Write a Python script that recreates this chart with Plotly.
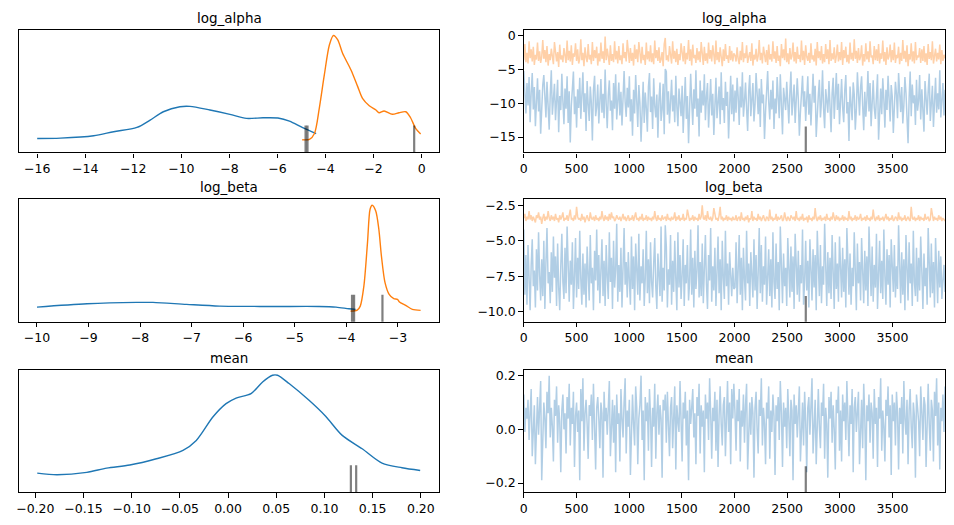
import numpy as np
import plotly.graph_objects as go

# ---------------- data ----------------
variables = ["log_alpha", "log_beta", "mean"]

# KDE curves (relative density heights)
kde_la_c0_x = [-16, -15.03, -13.65, -12.82, -11.85, -11.3, -10.75, -10.06, -9.64, -8.81, -7.98, -7.29, -6.6, -5.98, -5.5, -4.95, -4.39]
kde_la_c0_y = [0.114, 0.117, 0.136, 0.169, 0.204, 0.264, 0.332, 0.373, 0.376, 0.346, 0.311, 0.278, 0.283, 0.281, 0.256, 0.202, 0.153]
kde_la_c1_x = [-4.97, -4.67, -4.46, -4.26, -4.05, -3.84, -3.67, -3.49, -3.29, -2.94, -2.66, -2.46, -2.18, -1.9, -1.77, -1.56, -1.22, -0.94, -0.66, -0.46, -0.25, -0.04]
kde_la_c1_y = [0.104, 0.106, 0.155, 0.36, 0.632, 0.877, 0.954, 0.918, 0.809, 0.673, 0.537, 0.441, 0.381, 0.346, 0.324, 0.338, 0.311, 0.324, 0.332, 0.283, 0.196, 0.150]

kde_lb_c0_x = [-10, -9.03, -8.07, -7.75, -7.1, -6.46, -5.49, -4.53, -4.2, -3.95, -3.82]
kde_lb_c0_y = [0.120, 0.147, 0.158, 0.158, 0.142, 0.128, 0.125, 0.125, 0.120, 0.106, 0.101]
kde_lb_c1_x = [-3.92, -3.79, -3.73, -3.66, -3.59, -3.54, -3.5, -3.43, -3.37, -3.32, -3.25, -3.17, -3.08, -3.01, -2.97, -2.85, -2.72, -2.56]
kde_lb_c1_y = [0.087, 0.095, 0.128, 0.292, 0.646, 0.918, 0.951, 0.905, 0.755, 0.537, 0.319, 0.223, 0.188, 0.183, 0.161, 0.134, 0.101, 0.093]

kde_mu_x = [-0.198, -0.1776, -0.1466, -0.126, -0.1019, -0.0744, -0.0468, -0.033, -0.0158, -0.0021, 0.0083, 0.0238, 0.0358, 0.0461, 0.0513, 0.0633, 0.084, 0.1012, 0.1184, 0.1391, 0.1597, 0.1804, 0.1993]
kde_mu_y = [0.155, 0.142, 0.161, 0.196, 0.221, 0.272, 0.341, 0.422, 0.613, 0.722, 0.768, 0.804, 0.899, 0.954, 0.954, 0.886, 0.749, 0.619, 0.463, 0.354, 0.237, 0.199, 0.177]

# divergences
div_draws = [2677]
div_la_vals = [-4.83, -4.75, -0.31]
div_lb_vals = [-3.89, -3.85, -3.30]
div_mu_vals = [0.1274, 0.1329]

# trace samples (thinned, every ~10 draws)
trace_la_c0 = [
    -5.2, -9.8, -11.5, -7.0, -10.3, -6.1, -12.8, -8.4, -5.5, -10.9,
    -7.6, -13.4, -9.1, -6.3, -11.2, -8.0, -14.5, -10.6, -7.3, -5.8,
    -9.5, -12.1, -6.8, -10.0, -13.9, -8.7, -5.1, -11.7, -9.3, -7.1,
    -12.5, -10.2, -6.5, -14.3, -8.9, -11.0, -5.6, -9.7, -13.1, -7.8,
    -10.8, -6.0, -12.9, -8.2, -15.8, -10.4, -7.4, -5.3, -11.6, -9.0,
    -13.6, -7.9, -10.7, -6.2, -12.3, -9.4, -5.4, -11.3, -8.5, -14.1,
    -6.7, -10.1, -12.6, -7.5, -9.9, -15.5, -8.1, -5.9, -11.9, -10.5,
    -7.2, -13.0, -9.2, -6.4, -11.4, -8.6, -12.2, -5.0, -10.0, -13.7,
    -8.8, -6.6, -11.1, -9.6, -14.0, -7.0, -10.8, -5.7, -12.4, -9.1,
    -6.9, -11.8, -8.3, -13.3, -10.3, -5.2, -9.8, -12.0, -7.7, -10.6,
    -6.0, -12.7, -9.4, -14.8, -8.0, -11.5, -5.8, -10.2, -13.5, -7.3,
    -9.9, -15.7, -11.0, -6.8, -12.9, -8.4, -10.7, -14.2, -7.6, -5.5,
    -11.3, -9.0, -13.8, -6.3, -10.4, -12.1, -8.7, -15.1, -9.6, -6.9,
    -12.6, -10.9, -7.1, -14.6, -4.9, -5.3, -11.7, -8.2, -13.0, -10.1,
    -6.5, -11.2, -8.8, -12.8, -5.9, -10.5, -13.4, -7.8, -9.5, -11.9,
    -7.4, -14.4, -10.0, -6.1, -12.3, -8.9, -15.9, -11.1, -5.6, -9.7,
    -13.2, -7.9, -10.8, -5.1, -12.0, -9.3, -14.9, -6.6, -11.4, -8.1,
    -10.3, -5.7, -12.5, -9.0, -7.0, -13.6, -10.6, -6.4, -11.8, -8.6,
    -14.7, -9.8, -6.2, -12.2, -10.0, -7.5, -13.1, -5.4, -11.0, -9.2,
    -12.9, -6.8, -10.4, -8.3, -15.2, -9.6, -5.9, -11.6, -7.2, -12.7,
    -8.1, -11.4, -6.2, -9.0, -13.2, -7.5, -10.6, -5.4, -12.0, -9.7,
    -6.9, -10.8, -14.1, -8.3, -5.8, -11.9, -9.5, -7.0, -12.7, -10.2,
    -5.5, -9.1, -11.6, -7.8, -13.5, -6.4, -10.0, -8.7, -15.3, -11.2,
    -7.3, -5.2, -9.8, -12.4, -8.0, -10.9, -6.6, -13.8, -9.3, -11.5,
    -6.1, -8.9, -12.2, -5.7, -10.4, -14.6, -7.7, -9.6, -11.0, -6.8,
    -10.7, -13.0, -8.4, -5.3, -11.8, -9.2, -7.2, -12.9, -10.1, -6.3,
    -9.4, -14.8, -11.3, -7.6, -5.9, -10.5, -8.2, -12.6, -9.0, -6.0,
    -11.7, -8.6, -13.3, -10.3, -5.6, -9.9, -7.4, -15.0, -11.1, -8.8,
    -6.5, -12.1, -9.7, -5.1, -10.8, -13.7, -7.9, -9.3, -11.4, -6.7,
    -10.0, -14.3, -8.5, -6.2, -12.3, -9.6, -5.5, -11.0, -7.1, -13.1,
    -9.2, -6.4, -10.6, -12.8, -8.1, -5.8, -11.5, -9.8, -15.6, -7.5,
    -10.2, -12.5, -6.9, -8.7, -13.9, -10.9, -5.4, -9.1, -11.8, -7.7,
    -6.0, -10.4, -14.0, -8.3, -12.0, -9.5, -5.2, -11.2, -7.0, -13.4,
    -9.9, -6.6, -10.7, -12.3, -8.9, -5.7, -15.4, -10.1, -7.8, -11.6,
    -6.3, -9.4, -13.6, -8.0, -11.0, -5.9, -10.5, -12.7, -7.3, -9.0,
    -14.4, -10.8, -6.8, -8.6, -12.2, -5.5, -9.7, -11.3, -7.6, -13.0,
    -10.3, -6.1, -8.4, -12.9, -15.9, -9.2, -5.3, -11.9, -7.2, -10.0,
    -8.8, -13.2, -6.5, -11.1, -9.6, -5.8, -12.4, -7.9, -10.6, -14.2,
    -6.7, -9.3, -11.7, -8.2, -5.6, -12.6, -10.4, -7.4, -13.5, -9.8,
    -6.2, -11.4, -8.5, -10.9, -5.1, -12.1, -9.1, -7.0, -11.8, -8.0,
]
trace_la_c1 = [
    -3.6, -1.2, -3.9, -2.5, -4.1, -0.8, -3.3, -2.0, -3.8, -1.6,
    -4.3, -2.8, -3.5, -1.0, -3.7, -2.3, -4.0, -3.1, -0.6, -3.4,
    -2.1, -3.9, -1.5, -4.4, -2.7, -3.6, -1.9, -3.2, -4.2, -0.9,
    -3.0, -3.8, -2.4, -4.6, -1.3, -3.5, -2.9, -3.9, -1.8, -3.3,
    -4.0, -0.7, -3.6, -2.2, -3.8, -1.4, -4.3, -2.6, -3.1, -1.1,
    -3.7, -2.0, -4.1, -3.4, -0.5, -3.6, -2.5, -4.5, -1.7, -3.2,
    -3.9, -1.2, -3.5, -2.8, -4.2, -0.9, -3.7, -2.1, -3.3, -1.6,
    -4.4, -2.6, -3.8, -1.0, -3.4, -2.3, -4.0, -0.1, -3.6, -1.9,
    -3.1, -4.3, -1.4, -3.7, -2.7, -3.9, -0.8, -3.5, -2.2, -4.1,
    -1.5, -3.6, -2.9, -4.2, -1.1, -3.3, -2.4, -3.8, -0.6, -3.0,
    -4.0, -1.8, -3.7, -2.5, -4.4, -1.3, -3.4, -2.0, -3.9, -0.9,
    -3.2, -4.1, -1.6, -3.6, -2.8, -4.3, -1.0, -3.5, -2.3, -3.8,
    -1.4, -3.9, -2.6, -4.2, -0.7, -3.3, -2.1, -3.7, -1.7, -4.0,
    -3.5, -2.4, -4.5, -1.2, -0.3, -3.6, -2.9, -3.8, -1.5, -3.1,
    -4.1, -0.8, -3.4, -2.2, -3.9, -1.9, -4.3, -2.7, -3.6, -1.1,
    -3.0, -3.8, -1.5, -4.2, -2.5, -3.5, -0.6, -3.7, -2.0, -4.4,
    -1.3, -3.3, -2.8, -4.0, -1.8, -3.6, -2.3, -3.9, -0.9, -3.2,
    -4.3, -1.6, -3.7, -2.6, -4.1, -1.0, -3.4, -2.1, -3.8, -1.4,
    -3.5, -4.2, -0.7, -3.6, -2.4, -3.9, -1.7, -3.1, -4.5, -2.0,
    -3.7, -1.2, -3.4, -2.9, -4.0, -1.5, -3.6, -2.2, -3.8, -2.6,
    -2.9, -3.8, -1.7, -3.4, -4.2, -2.2, -3.6, -0.9, -3.9, -2.6,
    -3.3, -1.4, -4.0, -3.1, -2.4, -3.7, -1.1, -4.4, -2.8, -3.5,
    -1.9, -3.8, -3.0, -0.6, -3.6, -2.5, -4.1, -1.6, -3.2, -3.9,
    -2.1, -4.3, -1.3, -3.5, -2.7, -3.8, -0.8, -3.4, -2.3, -4.0,
    -1.5, -3.7, -2.9, -4.5, -1.2, -3.3, -2.0, -3.6, -0.4, -3.9,
    -2.6, -4.2, -1.8, -3.5, -3.0, -1.0, -3.8, -2.4, -4.1, -1.6,
    -3.4, -2.8, -3.9, -0.7, -3.6, -2.2, -4.3, -1.4, -3.1, -3.7,
    -2.5, -4.0, -1.1, -3.5, -2.9, -3.8, -1.9, -4.4, -0.9, -3.3,
    -2.3, -3.6, -1.5, -4.1, -2.7, -3.9, -1.2, -3.4, -2.0, -4.2,
    -0.6, -3.7, -2.6, -3.5, -1.7, -4.0, -3.0, -1.3, -3.8, -2.4,
    -3.6, -0.9, -4.3, -2.1, -3.3, -1.6, -3.9, -2.8, -4.1, -1.0,
    -3.5, -2.5, -3.7, -0.5, -3.4, -2.2, -4.0, -1.8, -3.6, -3.1,
    -1.4, -4.4, -2.7, -3.8, -1.1, -3.5, -2.3, -3.9, -0.8, -3.2,
    -2.9, -4.2, -1.5, -3.6, -2.0, -3.7, -1.2, -4.1, -2.6, -3.4,
    -0.7, -3.8, -2.4, -4.3, -1.7, -3.5, -3.0, -1.3, -3.9, -2.1,
    -3.6, -1.0, -4.0, -2.8, -3.3, -1.6, -4.2, -2.5, -3.7, -0.6,
    -3.4, -2.2, -3.9, -1.4, -4.5, -2.7, -3.5, -1.1, -3.8, -2.3,
    -4.1, -0.9, -3.6, -2.9, -3.2, -1.8, -4.0, -2.0, -3.7, -1.5,
    -3.9, -2.6, -4.3, -1.2, -3.4, -2.4, -3.6, -0.8, -4.1, -3.0,
    -1.9, -3.8, -2.5, -3.5, -1.3, -4.2, -2.1, -3.7, -2.8, -3.3,
]
trace_lb_c0 = [
    -4.2, -8.8, -6.0, -9.5, -5.3, -7.8, -9.9, -6.7, -4.9, -8.2,
    -7.1, -9.7, -5.6, -8.5, -4.4, -7.4, -9.2, -6.3, -8.9, -5.0,
    -9.8, -6.5, -4.1, -8.0, -7.2, -9.4, -5.8, -8.6, -4.7, -7.6,
    -6.1, -9.6, -5.2, -8.3, -9.9, -6.8, -4.5, -7.9, -9.1, -5.5,
    -8.7, -4.0, -7.0, -9.3, -6.4, -8.1, -5.1, -9.8, -7.5, -4.8,
    -9.0, -6.2, -8.4, -4.3, -7.7, -9.5, -5.9, -8.8, -6.6, -9.7,
    -5.4, -7.3, -9.2, -4.6, -8.0, -6.9, -9.9, -5.7, -7.8, -4.2,
    -8.5, -6.0, -9.4, -7.1, -4.9, -8.9, -6.4, -9.6, -5.3, -7.5,
    -9.1, -4.4, -7.9, -6.2, -9.8, -5.0, -8.3, -7.0, -3.8, -9.3,
    -6.7, -8.6, -5.5, -9.7, -7.4, -4.1, -8.1, -6.5, -9.0, -5.8,
    -7.8, -9.5, -4.7, -8.4, -6.1, -9.9, -5.2, -7.2, -8.8, -4.5,
    -9.2, -6.8, -8.0, -5.6, -9.6, -7.6, -4.3, -8.7, -6.3, -9.4,
    -5.1, -7.9, -9.0, -6.6, -4.8, -8.2, -9.8, -5.9, -7.3, -8.9,
    -4.0, -9.3, -6.9, -8.5, -3.9, -5.4, -9.7, -7.0, -8.1, -4.6,
    -9.5, -6.4, -8.6, -5.0, -7.7, -9.9, -4.4, -8.3, -6.0, -9.1,
    -7.4, -4.9, -9.6, -6.7, -8.0, -5.3, -9.2, -7.9, -4.2, -8.8,
    -6.2, -9.7, -5.7, -8.4, -7.1, -3.9, -9.0, -6.5, -8.9, -5.2,
    -9.4, -7.5, -4.6, -8.1, -9.8, -6.0, -7.8, -4.1, -9.3, -6.8,
    -8.5, -5.5, -9.6, -7.2, -4.7, -8.7, -6.3, -9.9, -5.0, -7.6,
    -9.1, -4.3, -8.2, -6.6, -9.5, -5.8, -7.3, -8.9, -6.9, -8.4,
    -8.3, -5.1, -9.4, -7.0, -4.6, -8.8, -6.2, -9.9, -5.5, -7.7,
    -9.2, -4.3, -8.0, -6.6, -9.6, -5.8, -7.4, -9.0, -4.9, -8.5,
    -6.0, -9.8, -7.2, -4.1, -8.7, -5.3, -9.3, -6.8, -8.1, -4.7,
    -9.5, -7.5, -5.6, -8.9, -6.3, -9.7, -4.4, -7.9, -9.1, -5.2,
    -8.4, -6.5, -9.9, -4.0, -7.1, -9.4, -5.9, -8.2, -6.9, -9.6,
    -4.8, -7.6, -9.0, -5.4, -8.6, -6.1, -9.8, -4.5, -7.3, -8.8,
    -5.7, -9.3, -6.7, -8.0, -4.2, -9.5, -7.8, -5.0, -8.5, -6.4,
    -9.7, -4.9, -7.0, -9.2, -5.6, -8.3, -6.0, -9.9, -4.3, -7.5,
    -8.9, -5.3, -9.4, -6.8, -8.1, -3.8, -7.7, -9.6, -5.8, -8.7,
    -6.2, -9.1, -4.6, -7.4, -9.8, -5.1, -8.4, -6.6, -9.3, -4.7,
    -7.9, -9.0, -5.5, -8.6, -6.3, -9.7, -4.1, -7.2, -8.8, -5.9,
    -9.5, -6.9, -8.2, -4.4, -7.6, -9.9, -5.2, -8.0, -6.5, -9.2,
    -4.8, -7.1, -9.4, -5.7, -8.5, -6.1, -9.6, -4.0, -7.8, -8.9,
    -5.4, -9.3, -6.7, -8.3, -4.5, -9.8, -7.3, -5.0, -8.7, -6.4,
    -9.1, -4.2, -7.5, -9.5, -5.6, -8.1, -6.0, -9.7, -4.9, -7.0,
    -8.6, -5.3, -9.0, -6.8, -8.4, -3.9, -7.7, -9.4, -5.8, -8.8,
    -6.3, -9.9, -4.6, -7.4, -9.2, -5.1, -8.0, -6.6, -9.6, -4.3,
    -7.9, -8.9, -5.5, -9.3, -6.2, -8.5, -4.7, -7.2, -9.8, -5.9,
    -8.2, -6.9, -9.5, -4.1, -7.6, -9.0, -5.2, -8.7, -6.5, -9.7,
    -4.8, -7.1, -9.4, -5.7, -8.3, -6.1, -9.1, -7.8, -6.7, -8.6,
]
trace_lb_c1 = [
    -3.4, -3.1, -3.6, -3.3, -3.5, -2.9, -3.5, -3.2, -3.6, -3.3,
    -3.5, -3.7, -3.2, -3.4, -3.0, -3.5, -3.3, -3.8, -3.4, -3.1,
    -3.6, -3.3, -3.5, -2.9, -3.4, -3.6, -3.2, -3.5, -3.3, -3.6,
    -3.1, -3.5, -3.4, -3.7, -3.2, -3.5, -3.3, -3.0, -3.6, -3.4,
    -3.5, -3.2, -3.6, -3.3, -2.8, -3.5, -3.4, -3.6, -3.2, -3.5,
    -2.6, -3.3, -3.5, -3.4, -3.6, -3.1, -3.5, -3.3, -3.7, -3.4,
    -3.2, -3.5, -3.6, -3.0, -3.4, -3.5, -3.3, -3.6, -3.2, -3.5,
    -3.4, -3.6, -3.3, -3.5, -2.9, -3.4, -3.6, -3.2, -3.5, -3.3,
    -3.6, -3.1, -3.5, -3.0, -3.4, -3.3, -3.6, -3.5, -3.2, -3.4,
    -3.5, -3.3, -3.6, -3.4, -3.1, -3.5, -3.3, -3.6, -3.4, -3.2,
    -3.6, -3.4, -3.5, -3.2, -3.6, -3.3, -3.0, -3.5, -3.4, -3.6,
    -3.3, -3.5, -3.1, -3.6, -3.4, -3.5, -3.2, -3.6, -3.3, -3.5,
    -3.4, -3.6, -3.3, -3.5, -2.9, -3.4, -3.6, -3.2, -3.5, -3.4,
    -3.6, -3.2, -3.5, -3.4, -3.3, -3.6, -3.1, -3.5, -3.4, -3.6,
    -3.3, -3.5, -3.4, -3.0, -3.6, -3.3, -3.5, -3.2, -3.6, -3.4,
    -3.5, -3.1, -3.6, -3.4, -3.5, -2.8, -3.3, -3.6, -3.4, -3.5,
    -3.2, -3.6, -3.3, -3.5, -3.4, -3.6, -3.1, -3.5, -3.3, -2.5,
    -3.4, -3.5, -3.2, -3.6, -2.9, -3.4, -3.5, -3.3, -3.6, -3.4,
    -2.7, -3.3, -3.5, -3.4, -3.6, -3.2, -2.6, -3.5, -3.3, -3.6,
    -3.4, -3.5, -3.2, -3.6, -3.3, -3.5, -3.4, -3.6, -3.3, -3.5,
    -3.5, -3.2, -3.6, -3.4, -3.3, -3.6, -3.0, -3.5, -3.4, -3.6,
    -3.3, -3.5, -3.2, -3.7, -3.4, -3.5, -2.9, -3.6, -3.3, -3.5,
    -3.4, -3.6, -3.1, -3.5, -3.3, -3.6, -3.4, -3.2, -3.5, -3.6,
    -3.3, -3.4, -3.6, -2.8, -3.5, -3.3, -3.6, -3.4, -3.5, -3.1,
    -3.6, -3.3, -3.5, -3.4, -3.2, -3.6, -3.5, -3.0, -3.4, -3.6,
    -3.3, -3.5, -3.6, -3.2, -3.4, -3.5, -3.3, -3.6, -2.9, -3.5,
    -3.4, -3.6, -3.3, -3.5, -3.1, -3.6, -3.4, -3.5, -3.3, -3.7,
    -3.2, -3.5, -3.4, -3.6, -3.3, -3.5, -2.7, -3.4, -3.6, -3.3,
    -3.5, -3.2, -3.6, -3.4, -3.5, -3.3, -3.6, -3.1, -3.5, -3.4,
    -3.6, -3.3, -3.5, -3.0, -3.4, -3.6, -3.2, -3.5, -3.3, -3.6,
    -3.4, -3.5, -3.2, -3.6, -3.3, -3.5, -3.4, -3.6, -2.9, -3.5,
    -3.3, -3.6, -3.4, -3.5, -3.2, -3.6, -3.3, -3.5, -3.4, -3.1,
    -3.6, -3.4, -3.5, -3.3, -3.6, -3.2, -3.5, -3.4, -3.6, -3.3,
    -3.5, -2.8, -3.4, -3.6, -3.3, -3.5, -3.2, -3.6, -3.4, -3.5,
    -3.3, -3.6, -3.4, -3.1, -3.5, -3.3, -3.6, -3.4, -3.5, -3.2,
    -3.6, -3.5, -3.3, -3.4, -3.6, -3.0, -3.5, -3.3, -3.6, -3.4,
    -3.5, -3.2, -3.6, -3.4, -3.3, -3.5, -3.6, -2.6, -3.4, -3.5,
    -3.3, -3.6, -3.4, -3.5, -3.2, -3.6, -3.3, -3.5, -3.4, -3.6,
    -3.1, -3.5, -3.4, -3.3, -3.6, -3.5, -2.7, -3.4, -3.6, -3.3,
    -3.5, -3.4, -3.6, -3.2, -3.5, -3.3, -3.6, -3.4, -3.5, -3.6,
]
trace_mu_c0 = [
    0.13, -0.01, 0.08, 0.04, 0.11, -0.04, 0.06, 0.15, -0.10, 0.03,
    0.09, -0.13, 0.05, 0.12, -0.02, 0.07, 0.18, -0.19, 0.02, 0.10,
    0.04, -0.07, 0.14, 0.06, 0.20, -0.03, 0.08, 0.01, -0.12, 0.11,
    0.05, 0.16, -0.05, 0.09, 0.03, -0.16, 0.07, 0.13, 0.00, 0.06,
    -0.09, 0.12, 0.04, 0.17, -0.06, 0.08, 0.02, 0.14, -0.14, 0.05,
    0.10, -0.01, 0.07, -0.19, 0.15, 0.03, 0.19, -0.08, 0.06, 0.11,
    0.02, -0.11, 0.09, 0.05, 0.13, -0.04, 0.17, 0.01, -0.15, 0.08,
    0.12, 0.04, -0.07, 0.10, 0.06, -0.18, 0.14, 0.03, 0.08, -0.02,
    0.07, 0.18, -0.10, 0.05, 0.11, -0.05, 0.09, -0.16, 0.13, 0.02,
    0.06, -0.12, 0.15, 0.04, -0.03, 0.10, 0.19, -0.09, 0.07, 0.01,
    0.11, -0.17, 0.05, 0.13, 0.02, -0.06, 0.16, 0.08, -0.13, 0.04,
    0.09, 0.20, -0.04, 0.07, -0.19, 0.12, 0.03, 0.10, -0.08, 0.15,
    0.05, -0.14, 0.08, 0.01, 0.17, -0.11, 0.06, 0.13, -0.02, 0.09,
    0.04, -0.18, 0.11, 0.07, 0.13, -0.05, 0.14, 0.02, -0.10, 0.08,
    0.12, -0.07, 0.06, 0.16, -0.15, 0.09, 0.03, -0.01, 0.18, 0.05,
    -0.12, 0.10, 0.04, 0.14, -0.06, 0.07, -0.19, 0.11, 0.02, 0.08,
    0.15, -0.03, 0.06, -0.13, 0.12, 0.05, 0.17, -0.09, 0.09, 0.01,
    0.07, -0.16, 0.13, 0.04, 0.10, -0.04, 0.19, 0.06, -0.11, 0.08,
    0.03, 0.14, -0.08, 0.11, -0.14, 0.05, 0.16, 0.02, -0.06, 0.09,
    0.12, -0.10, 0.07, 0.18, -0.01, 0.10, -0.13, 0.15, 0.04, 0.17,
    0.06, -0.08, 0.11, 0.03, 0.15, -0.12, 0.07, 0.01, 0.13, -0.05,
    0.09, 0.17, -0.15, 0.04, 0.10, -0.02, 0.12, 0.06, -0.18, 0.08,
    0.14, 0.00, -0.09, 0.11, 0.05, 0.19, -0.06, 0.08, 0.02, -0.13,
    0.10, 0.04, 0.16, -0.11, 0.07, -0.01, 0.13, 0.05, -0.17, 0.09,
    0.03, 0.12, -0.04, 0.18, 0.06, -0.14, 0.10, 0.01, 0.08, -0.07,
    0.15, 0.04, -0.10, 0.11, 0.07, -0.19, 0.13, 0.02, 0.09, -0.03,
    0.06, 0.16, -0.12, 0.05, 0.10, -0.06, 0.14, 0.03, -0.16, 0.08,
    0.12, -0.02, 0.07, 0.19, -0.09, 0.04, 0.11, -0.13, 0.06, 0.15,
    0.01, -0.07, 0.10, 0.05, 0.17, -0.11, 0.08, 0.02, -0.18, 0.12,
    0.04, 0.14, -0.05, 0.09, 0.00, -0.15, 0.11, 0.06, 0.16, -0.08,
    0.07, -0.12, 0.13, 0.03, 0.10, -0.04, 0.18, 0.05, -0.10, 0.09,
    0.02, 0.15, -0.16, 0.08, 0.12, -0.01, 0.06, 0.14, -0.13, 0.04,
    0.11, -0.07, 0.17, 0.05, -0.19, 0.09, 0.03, 0.13, -0.05, 0.10,
    0.06, -0.11, 0.15, 0.02, 0.08, -0.14, 0.12, 0.04, 0.19, -0.08,
    0.07, 0.01, -0.12, 0.11, 0.05, 0.16, -0.03, 0.09, -0.17, 0.13,
    0.03, 0.10, -0.06, 0.14, 0.06, -0.15, 0.08, 0.02, 0.12, -0.09,
    0.18, 0.04, -0.02, 0.11, -0.13, 0.07, 0.15, 0.01, -0.07, 0.10,
    0.05, -0.18, 0.13, 0.08, 0.03, -0.10, 0.16, 0.06, -0.04, 0.12,
    0.09, -0.14, 0.04, 0.17, 0.02, -0.08, 0.11, 0.07, -0.12, 0.14,
    0.05, 0.19, -0.06, 0.10, -0.15, 0.08, 0.03, 0.13, -0.01, 0.16,
]
n_draws = 4000

# ---------------- styling ----------------
C0 = "#1f77b4"
C1 = "#ff7f0e"
C0_light = "#b1cee5"
C1_light = "#ffd0a8"
DIV = "rgba(0,0,0,0.5)"
FONT = "DejaVu Sans"
W, H = 954, 525

def px_x(a, b):
    return [a / W, b / W]

def px_y(top, bottom):
    return [1 - bottom / H, 1 - top / H]

left_dom = px_x(15, 437)
right_dom = px_x(522, 945)
rows = [(28, 151), (198, 321), (369, 492)]

fig = go.Figure()

def kde_line(x, y, color, xa, ya):
    fig.add_trace(go.Scatter(x=x, y=y, mode="lines", line=dict(color=color, width=1.4, shape="spline", smoothing=0.8),
                             xaxis=xa, yaxis=ya, hoverinfo="skip", showlegend=False))

def trace_line(y, color, xa, ya):
    idx = np.round(np.linspace(0, n_draws - 1, len(y)))
    fig.add_trace(go.Scatter(x=idx, y=y, mode="lines", line=dict(color=color, width=1.5),
                             xaxis=xa, yaxis=ya, hoverinfo="skip", showlegend=False))

def div_marks(x, ybottom, size, xa, ya):
    fig.add_trace(go.Scatter(x=x, y=[ybottom] * len(x), mode="markers",
                             marker=dict(symbol="line-ns", size=size, line=dict(color=DIV, width=2.2)),
                             xaxis=xa, yaxis=ya, hoverinfo="skip", showlegend=False, cliponaxis=True))

kde_ranges = [[-16.76, 0.73], [-10.35, -2.20], [-0.217, 0.219]]
kde_dticks = [2, 1, 0.05]
kde_fmt = ["d", "d", ".2f"]
tr_yranges = [[-17.28, 0.89], [-10.71, -2.07], [-0.234, 0.2226]]
tr_dticks = [5, 2.5, 0.2]
tr_fmt = ["d", ".1f", ".1f"]
kde_yrange = [0, 1]
KDE_MARK = 38.5
TR_MARK = 37

# row 1
kde_line(kde_la_c0_x, kde_la_c0_y, C0, "x", "y")
kde_line(kde_la_c1_x, kde_la_c1_y, C1, "x", "y")
div_marks(div_la_vals, kde_yrange[0], KDE_MARK, "x", "y")
trace_line(trace_la_c0, C0_light, "x2", "y2")
trace_line(trace_la_c1, C1_light, "x2", "y2")
div_marks(div_draws, tr_yranges[0][0], TR_MARK, "x2", "y2")
# row 2
kde_line(kde_lb_c0_x, kde_lb_c0_y, C0, "x3", "y3")
kde_line(kde_lb_c1_x, kde_lb_c1_y, C1, "x3", "y3")
div_marks(div_lb_vals, kde_yrange[0], KDE_MARK, "x3", "y3")
trace_line(trace_lb_c0, C0_light, "x4", "y4")
trace_line(trace_lb_c1, C1_light, "x4", "y4")
div_marks(div_draws, tr_yranges[1][0], TR_MARK, "x4", "y4")
# row 3
kde_line(kde_mu_x, kde_mu_y, C0, "x5", "y5")
div_marks(div_mu_vals, kde_yrange[0], KDE_MARK, "x5", "y5")
trace_line(trace_mu_c0, C0_light, "x6", "y6")
div_marks(div_draws, tr_yranges[2][0], TR_MARK, "x6", "y6")

axis_common = dict(showline=True, linecolor="black", linewidth=1.2, mirror=True, showgrid=False,
                   zeroline=False, ticks="outside", ticklen=4.5, tickwidth=1, tickcolor="black",
                   tickfont=dict(family=FONT, size=12.5, color="black"))

layout = dict(width=W, height=H, margin=dict(l=0, r=0, t=0, b=0), plot_bgcolor="white", paper_bgcolor="white",
              showlegend=False, font=dict(family=FONT, color="black"))
annotations = []
for i, (top, bot) in enumerate(rows):
    kx = "xaxis" if i == 0 else f"xaxis{2 * i + 1}"
    ky = "yaxis" if i == 0 else f"yaxis{2 * i + 1}"
    tx = f"xaxis{2 * i + 2}"
    ty = f"yaxis{2 * i + 2}"
    ydom = px_y(top, bot)
    kxn = "x" if i == 0 else f"x{2 * i + 1}"
    kyn = "y" if i == 0 else f"y{2 * i + 1}"
    layout[kx] = dict(axis_common, domain=left_dom, anchor=kyn, range=kde_ranges[i], dtick=kde_dticks[i],
                      tick0=0, tickformat=kde_fmt[i])
    layout[ky] = dict(axis_common, domain=ydom, anchor=kxn, range=kde_yrange, showticklabels=False, ticks="")
    layout[tx] = dict(axis_common, domain=right_dom, anchor=f"y{2 * i + 2}", range=[0, n_draws - 1],
                      tickvals=list(range(0, 4000, 500)))
    layout[ty] = dict(axis_common, domain=ydom, anchor=f"x{2 * i + 2}", range=tr_yranges[i], dtick=tr_dticks[i],
                      tick0=0, tickformat=tr_fmt[i])
    ytitle = 1 - (top - 12) / H
    for dom in (left_dom, right_dom):
        annotations.append(dict(text=variables[i], x=(dom[0] + dom[1]) / 2, y=ytitle, xref="paper", yref="paper",
                                xanchor="center", yanchor="middle", showarrow=False,
                                font=dict(family=FONT, size=13.5, color="black")))
layout["annotations"] = annotations
fig.update_layout(**layout)

fig.write_html("out.html")
